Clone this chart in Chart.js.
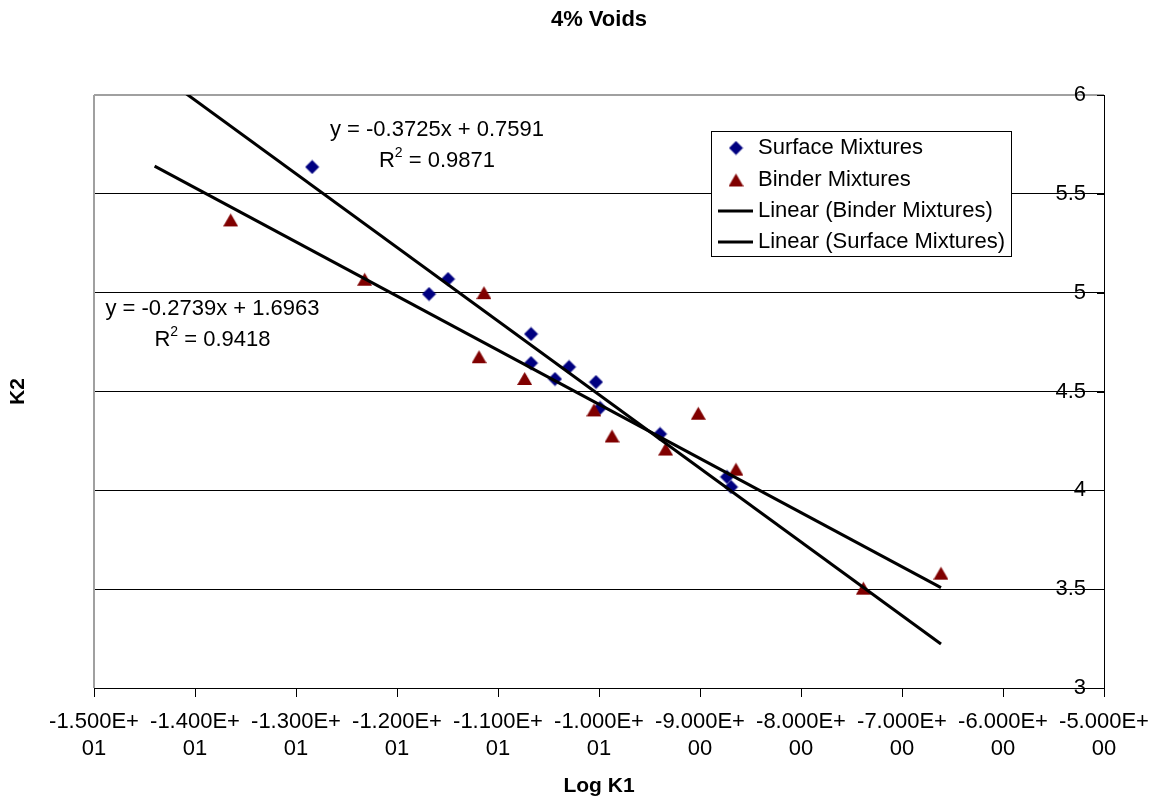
<!DOCTYPE html>
<html>
<head>
<meta charset="utf-8">
<title>4% Voids</title>
<script src="https://cdn.jsdelivr.net/npm/chart.js@4.4.1/dist/chart.umd.min.js"></script>
<style>
  body { margin: 0; background: #fff; }
  canvas { display: block; }
</style>
</head>
<body>
<canvas id="voidsChart" width="1154" height="799"></canvas>
<script>
// --- Data ---
const surfaceX = [-12.84, -11.495, -11.683, -10.673, -10.673, -10.297, -10.436, -10.03, -9.99, -9.396, -8.733, -8.693];
const surfaceY = [5.636, 5.069, 4.993, 4.791, 4.644, 4.624, 4.563, 4.548, 4.417, 4.285, 4.068, 4.017];
const binderX = [-13.647, -12.32, -11.139, -11.188, -10.736, -10.05, -9.871, -9.34, -9.017, -8.644, -7.383, -6.614];
const binderY = [5.368, 5.068, 5.0, 4.676, 4.566, 4.407, 4.275, 4.209, 4.39, 4.107, 3.505, 3.581];

// trendline end points
const trendX = [-14.40, -6.614];
const binderTrendY = [5.640, 3.508];
const surfaceTrendY = [6.123, 3.223];

const xTicks = [-15, -14, -13, -12, -11, -10, -9, -8, -7, -6, -5];
const xTickLabels = [
  ['-1.500E+', '01'], ['-1.400E+', '01'], ['-1.300E+', '01'], ['-1.200E+', '01'],
  ['-1.100E+', '01'], ['-1.000E+', '01'], ['-9.000E+', '00'], ['-8.000E+', '00'],
  ['-7.000E+', '00'], ['-6.000E+', '00'], ['-5.000E+', '00']
];
const yTicks = [3, 3.5, 4, 4.5, 5, 5.5, 6];
const yTickLabels = ['3', '3.5', '4', '4.5', '5', '5.5', '6'];

const surfaceEq = ['y = -0.3725x + 0.7591', '0.9871'];
const binderEq = ['y = -0.2739x + 1.6963', '0.9418'];

const FONT = "'Liberation Sans', Arial, sans-serif";
const NAVY = '#000080';
const MAROON = '#800000';

function toPoints(xs, ys) {
  return xs.map((x, i) => ({ x: x, y: ys[i] }));
}

// marker images (Excel style diamond / triangle)
function makeMarker(shape, color) {
  const c = document.createElement('canvas');
  c.width = 15; c.height = 15;
  const g = c.getContext('2d');
  g.fillStyle = color;
  g.beginPath();
  if (shape === 'diamond') {
    g.moveTo(7.5, 0.5); g.lineTo(14.5, 7.5); g.lineTo(7.5, 14.5); g.lineTo(0.5, 7.5);
  } else {
    g.moveTo(7.5, 1); g.lineTo(15, 14); g.lineTo(0, 14);
  }
  g.closePath();
  g.fill();
  return c;
}
const diamondImg = makeMarker('diamond', NAVY);
const triangleImg = makeMarker('triangle', MAROON);

function drawEquation(ctx, eq, cx, cy) {
  ctx.fillStyle = '#000';
  ctx.textBaseline = 'middle';
  ctx.font = '22px ' + FONT;
  ctx.textAlign = 'center';
  ctx.fillText(eq[0], cx, cy);

  const rest = ' = ' + eq[1];
  const wR = ctx.measureText('R').width;
  const wRest = ctx.measureText(rest).width;
  ctx.font = '14px ' + FONT;
  const w2 = ctx.measureText('2').width;
  let x = cx - (wR + w2 + wRest) / 2;
  const y = cy + 31;
  ctx.textAlign = 'left';
  ctx.font = '22px ' + FONT;
  ctx.fillText('R', x, y);
  x += wR;
  ctx.font = '14px ' + FONT;
  ctx.fillText('2', x, y - 8);
  x += w2;
  ctx.font = '22px ' + FONT;
  ctx.fillText(rest, x, y);
}

const legendItems = [
  { text: 'Surface Mixtures', marker: diamondImg },
  { text: 'Binder Mixtures', marker: triangleImg },
  { text: 'Linear (Binder Mixtures)', line: true },
  { text: 'Linear (Surface Mixtures)', line: true }
];

const decorations = {
  id: 'decorations',
  afterDatasetsDraw(chart) {
    const ctx = chart.ctx;
    const area = chart.chartArea;
    const xs = chart.scales.x, ys = chart.scales.y;
    ctx.save();

    // grey left border of the plot area
    ctx.strokeStyle = '#a0a0a0';
    ctx.lineWidth = 2;
    ctx.beginPath();
    ctx.moveTo(area.left, area.top);
    ctx.lineTo(area.left, area.bottom);
    ctx.stroke();

    // short inside tick marks on the right axis
    ctx.strokeStyle = '#000';
    ctx.lineWidth = 1;
    yTicks.forEach(v => {
      const y = Math.round(ys.getPixelForValue(v)) + 0.5;
      ctx.beginPath();
      ctx.moveTo(area.right - 7, y);
      ctx.lineTo(area.right, y);
      ctx.stroke();
    });

    // trendline equations
    drawEquation(ctx, surfaceEq, xs.getPixelForValue(-11.604), ys.getPixelForValue(5.823));
    drawEquation(ctx, binderEq, xs.getPixelForValue(-13.827), ys.getPixelForValue(4.918));

    // legend box
    const lx = 711.5, ly = 131.5, lw = 300, lh = 125;
    ctx.fillStyle = '#fff';
    ctx.fillRect(lx, ly, lw, lh);
    ctx.strokeStyle = '#000';
    ctx.lineWidth = 1;
    ctx.strokeRect(lx, ly, lw, lh);
    const rowY = [148, 180, 211, 242];
    ctx.font = '22px ' + FONT;
    ctx.textAlign = 'left';
    ctx.textBaseline = 'middle';
    legendItems.forEach((item, i) => {
      const y = rowY[i];
      if (item.line) {
        ctx.strokeStyle = '#000';
        ctx.lineWidth = 3;
        ctx.beginPath();
        ctx.moveTo(718, y);
        ctx.lineTo(753, y);
        ctx.stroke();
      } else {
        ctx.drawImage(item.marker, 736 - 7.5, y - 7.5);
      }
      ctx.fillStyle = '#000';
      ctx.fillText(item.text, 758, y);
    });
    ctx.restore();
  }
};

const ctx = document.getElementById('voidsChart').getContext('2d');
new Chart(ctx, {
  type: 'scatter',
  data: {
    datasets: [
      {
        label: 'Linear (Binder Mixtures)',
        data: toPoints(trendX, binderTrendY),
        showLine: true, borderColor: '#000', borderWidth: 3,
        pointRadius: 0, order: 0, clip: 0
      },
      {
        label: 'Linear (Surface Mixtures)',
        data: toPoints(trendX, surfaceTrendY),
        showLine: true, borderColor: '#000', borderWidth: 3,
        pointRadius: 0, order: 0, clip: 0
      },
      {
        label: 'Binder Mixtures',
        data: toPoints(binderX, binderY),
        pointStyle: triangleImg, pointRadius: 7, order: 1
      },
      {
        label: 'Surface Mixtures',
        data: toPoints(surfaceX, surfaceY),
        pointStyle: diamondImg, pointRadius: 7, order: 2
      }
    ]
  },
  options: {
    responsive: false,
    animation: false,
    layout: { padding: 0 },
    plugins: {
      legend: { display: false },
      tooltip: { enabled: false },
      title: {
        display: true,
        fullSize: false,
        text: '4% Voids',
        color: '#000',
        font: { family: FONT, size: 22, weight: 'bold', lineHeight: 1.2 },
        padding: { top: 7, bottom: 61.6 }
      }
    },
    scales: {
      x: {
        type: 'linear',
        min: -15, max: -5,
        afterBuildTicks: axis => { axis.ticks = xTicks.map(v => ({ value: v })); },
        ticks: {
          callback: (v, i) => xTickLabels[i],
          color: '#000',
          font: { family: FONT, size: 22, lineHeight: 1.25 },
          padding: 11,
          maxRotation: 0,
          autoSkip: false
        },
        grid: { drawOnChartArea: false, drawTicks: true, tickLength: 9, color: '#000' },
        border: { color: '#000', width: 1 },
        title: {
          display: true,
          text: 'Log K1',
          color: '#000',
          font: { family: FONT, size: 21, weight: 'bold', lineHeight: 1.2 },
          padding: { top: 0, bottom: 0 }
        },
        afterFit: s => { s.height = 111; s.paddingLeft = 0; s.paddingRight = 0; }
      },
      y: {
        position: 'right',
        min: 3, max: 6,
        afterBuildTicks: axis => { axis.ticks = yTicks.map(v => ({ value: v })); },
        ticks: {
          callback: (v, i) => yTickLabels[i],
          mirror: true,
          padding: -18,
          color: '#000',
          font: { family: FONT, size: 22 }
        },
        grid: {
          color: c => (c.tick && c.tick.value === 6 ? '#a0a0a0' : '#000'),
          lineWidth: c => (c.tick && c.tick.value === 6 ? 2 : 1),
          drawTicks: false
        },
        border: { color: '#000', width: 1 },
        afterFit: s => { s.width = 50; s.paddingTop = 0; s.paddingBottom = 0; }
      },
      yl: {
        position: 'left',
        min: 3, max: 6,
        ticks: { display: false },
        grid: { display: false },
        border: { display: false },
        title: {
          display: true,
          text: 'K2',
          color: '#000',
          font: { family: FONT, size: 21, weight: 'bold', lineHeight: 1.2 },
          padding: { top: 6, bottom: 0 }
        },
        afterFit: s => { s.width = 94; }
      }
    }
  },
  plugins: [decorations]
});
</script>
</body>
</html>
